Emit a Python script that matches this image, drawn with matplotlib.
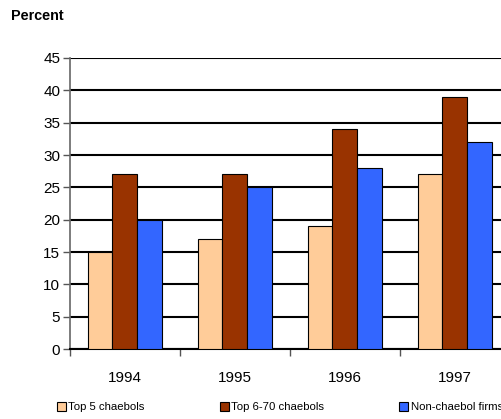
import numpy as np
import matplotlib
matplotlib.use("Agg")
import matplotlib.pyplot as plt

plt.rcParams['font.family'] = ['Liberation Sans', 'DejaVu Sans']

years = ['1994', '1995', '1996', '1997']
top5 = [15, 17, 19, 27]
top6_70 = [27, 27, 34, 39]
non_chaebol = [20, 25, 28, 32]
series_names = ['Top 5 chaebols', 'Top 6-70 chaebols', 'Non-chaebol firms']
colors = ['#FFCC99', '#993300', '#3366FF']

fig = plt.figure(figsize=(5.02, 4.19), dpi=100)
ax = fig.add_axes([0.1394, 0.167, 0.8765, 0.6946])

x = np.arange(len(years))
w = 0.227
for i, (vals, name, c) in enumerate(zip([top5, top6_70, non_chaebol], series_names, colors)):
    ax.bar(x + (i - 1) * w, vals, w, color=c, edgecolor='black', linewidth=0.8,
           label=name, zorder=3)

ax.set_xlim(-0.5, 3.5)
ax.set_ylim(0, 45)
ax.set_yticks(range(0, 50, 5))
ax.yaxis.grid(True, color='black', linewidth=1.5, zorder=0)
ax.set_axisbelow(True)

# category boundaries get the ticks, labels sit in between
ax.set_xticks(np.arange(-0.5, 3.6, 1))
ax.set_xticklabels([])
ax.set_xticks(x, minor=True)
ax.set_xticklabels(years, minor=True)
ax.tick_params(axis='x', which='minor', length=0, pad=16, labelsize=11)
ax.tick_params(axis='x', which='major', length=5, direction='out', width=1, color='#555555')
ax.tick_params(axis='y', length=5, direction='out', width=1, color='#555555', labelsize=11, pad=2)

for s in ['top', 'right']:
    ax.spines[s].set_visible(False)
ax.spines['left'].set_color('#666666')
ax.spines['left'].set_linewidth(1.2)
ax.spines['bottom'].set_color('black')
ax.spines['bottom'].set_linewidth(1.5)

fig.text(0.022, 0.962, 'Percent', fontsize=10.4, fontweight='bold', va='center', ha='left')

fig.legend(loc='center left', bbox_to_anchor=(0.113, 0.028), ncol=3, frameon=False,
           fontsize=8.2, handlelength=0.8, handleheight=0.8, handletextpad=0.2,
           columnspacing=6.6, borderaxespad=0, borderpad=0)

fig.savefig('out.png', dpi=100)
